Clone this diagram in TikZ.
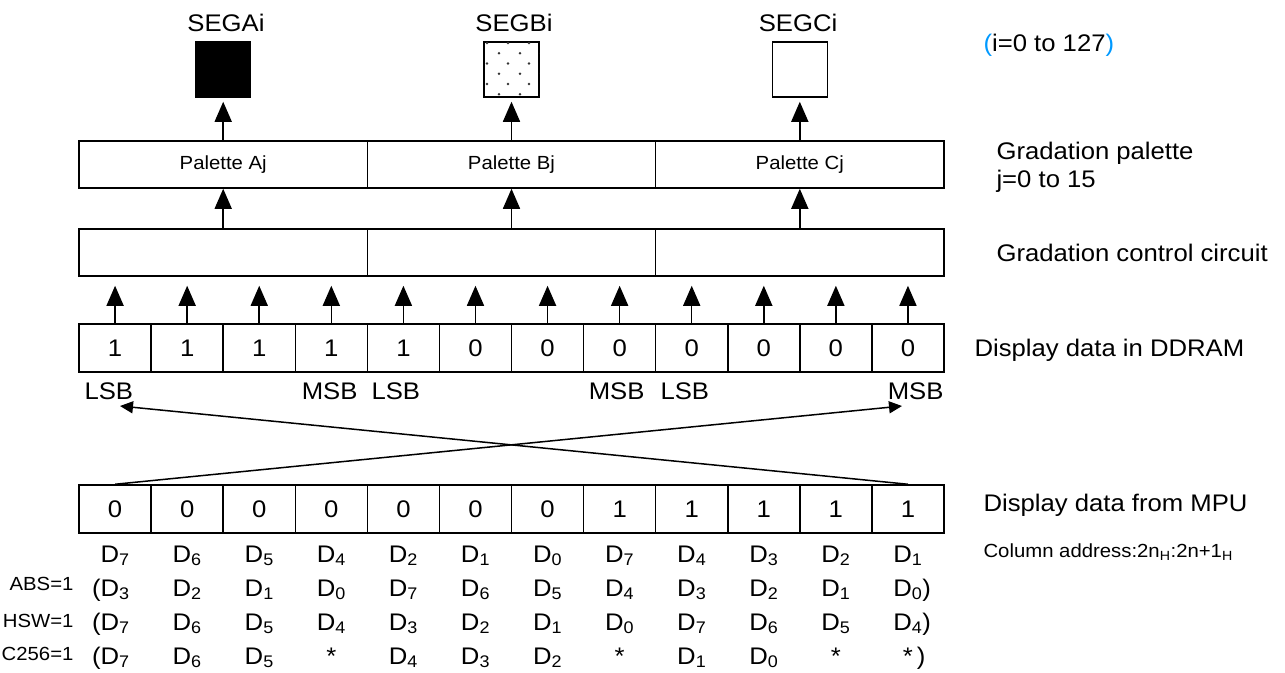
\documentclass[tikz,border=0pt]{standalone}
\usepackage{fontspec}
\setmainfont{Liberation Sans}[FakeStretch=1.07]
\usetikzlibrary{arrows.meta, positioning}

\definecolor{parenblue}{RGB}{0,153,255}
\newcommand{\Dbit}[1]{D\textsubscript{#1}}

\begin{document}
\begin{tikzpicture}[x=1pt, y=-1pt,
        every node/.style={font=\fontsize{24}{28}\selectfont},
        small/.style={font=\fontsize{19}{23}\selectfont},
        cell/.style={draw, line width=1.5pt, minimum width=72.08pt, minimum height=48pt, inner sep=0pt},
        wide/.style={draw, line width=1.5pt, minimum width=288.33pt, minimum height=47pt, inner sep=0pt},
        segbox/.style={draw, line width=1.5pt, minimum width=55pt, minimum height=55pt, inner sep=0pt},
        up/.style={line width=1.5pt, -{Triangle[length=20pt, width=17pt]}},
        cross/.style={line width=1.5pt, -{Triangle[length=13pt, width=12pt]}}]
    \useasboundingbox (0,0) rectangle (1285,672);

    \node[segbox, fill=black] (segA) at (223.2,69.5) {};
    \node[segbox] (segB) at (511.5,69.5) {};
    \node[segbox] (segC) at (799.8,69.5) {};
    \node[anchor=base] (segAlbl) at (226,31) {SEGAi};
    \node[anchor=base] (segBlbl) at (514,31) {SEGBi};
    \node[anchor=base] (segClbl) at (798,31) {SEGCi};
    \begin{scope}
        \clip (segB.south west) rectangle (segB.north east);
        \foreach \r in {0,2,4}
            \foreach \c in {0,1,2}
                \fill[black!80] ({487+21*\c},{43+10.25*\r}) circle (1.3pt);
        \foreach \r in {1,3,5}
            \foreach \c in {0,1,2}
                \fill[black!80] ({499+21*\c},{43+10.25*\r}) circle (1.3pt);
    \end{scope}
    \node[anchor=base west] (irange) at (980,51) {\textcolor{parenblue}{(}i=0 to 127\textcolor{parenblue}{)}};

    \node[wide, small] (palA) at (223.2,164.5) {Palette Aj};
    \node[wide, small] (palB) at (511.5,164.5) {Palette Bj};
    \node[wide, small] (palC) at (799.8,164.5) {Palette Cj};
    \node[anchor=base west] (gplbl) at (993,159) {Gradation palette};
    \node[anchor=base west] (jrange) at (993,187) {j=0 to 15};

    \node[wide] (gcA) at (223.2,252.5) {};
    \node[wide] (gcB) at (511.5,252.5) {};
    \node[wide] (gcC) at (799.8,252.5) {};
    \node[anchor=base west] (gclbl) at (993,261) {Gradation control circuit};

    \draw[up, shorten >=4pt] (palA.north) -- (segA.south);
    \draw[up, shorten >=4pt] (palB.north) -- (segB.south);
    \draw[up, shorten >=4pt] (palC.north) -- (segC.south);
    \draw[up] (gcA.north) -- (palA.south);
    \draw[up] (gcB.north) -- (palB.south);
    \draw[up] (gcC.north) -- (palC.south);

    \foreach \v [count=\i] in {1,1,1,1,1,0,0,0,0,0,0,0}
        \node[cell] (dd\i) at ({43+72.08*\i},348) {\v};
    \foreach \i in {1,...,12}
        \draw[up, shorten >=9pt] (dd\i.north) -- (dd\i.north |- gcA.south);
    \node[anchor=base west] (ddlbl) at (971,356) {Display data in DDRAM};

    \node[anchor=base west] (lsbA) at (81,399) {LSB};
    \node[anchor=base east] (msbA) at (361,399) {MSB};
    \node[anchor=base west] (lsbB) at (368,399) {LSB};
    \node[anchor=base east] (msbB) at (648,399) {MSB};
    \node[anchor=base west] (lsbC) at (657,399) {LSB};
    \node[anchor=base east] (msbC) at (947,399) {MSB};

    \foreach \v [count=\i] in {0,0,0,0,0,0,0,1,1,1,1,1}
        \node[cell] (mpu\i) at ({43+72.08*\i},509) {\v};
    \node[anchor=base west] (mpulbl) at (980,511) {Display data from MPU};
    \node[small, anchor=base west] (collbl) at (980,557) {Column address:2n\textsubscript{H}:2n+1\textsubscript{H}};

    \coordinate (tipL) at (120,406);
    \coordinate (tipR) at (902,406);
    \draw[cross] (mpu1.north) -- (tipR);
    \draw[cross] (mpu12.north) -- (tipL);

    \foreach \t [count=\i] in {7,6,5,4,2,1,0,7,4,3,2,1}
        \node[anchor=base] (dbit\i) at ({43+72.08*\i},562) {\Dbit{\t}};
    \foreach \t [count=\i] in {{\llap{(}\Dbit{3}},\Dbit{2},\Dbit{1},\Dbit{0},\Dbit{7},\Dbit{6},\Dbit{5},\Dbit{4},\Dbit{3},\Dbit{2},\Dbit{1},{\Dbit{0}\rlap{)}}}
        \node[anchor=base] (abs\i) at ({43+72.08*\i},596) {\t};
    \foreach \t [count=\i] in {{\llap{(}\Dbit{7}},\Dbit{6},\Dbit{5},\Dbit{4},\Dbit{3},\Dbit{2},\Dbit{1},\Dbit{0},\Dbit{7},\Dbit{6},\Dbit{5},{\Dbit{4}\rlap{)}}}
        \node[anchor=base] (hsw\i) at ({43+72.08*\i},630) {\t};
    \foreach \t [count=\i] in {{\llap{(}\Dbit{7}},\Dbit{6},\Dbit{5},*,\Dbit{4},\Dbit{3},\Dbit{2},*,\Dbit{1},\Dbit{0},*,{*\rlap{\,)}}}
        \node[anchor=base] (cset\i) at ({43+72.08*\i},664) {\t};

    \node[small, anchor=base east] (abslbl) at (77,590) {ABS=1};
    \node[small, anchor=base east] (hswlbl) at (77,627) {HSW=1};
    \node[small, anchor=base east] (csetlbl) at (77,660) {C256=1};
\end{tikzpicture}
\end{document}
